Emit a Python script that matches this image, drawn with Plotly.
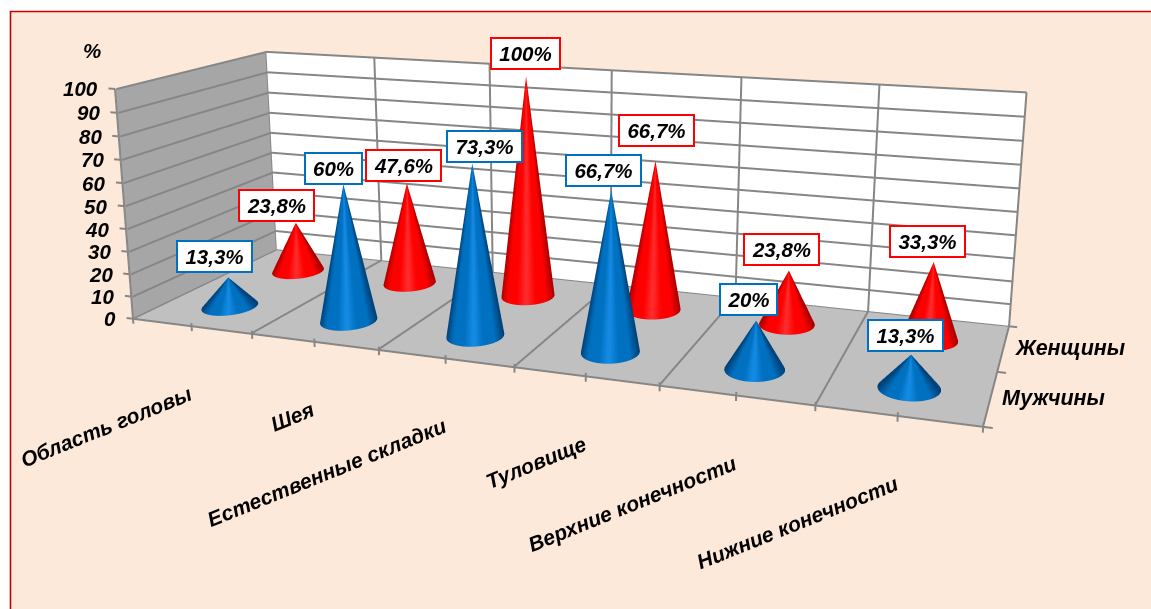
import numpy as np
import plotly.graph_objects as go

# Chart data
categories = ["Область головы", "Шея", "Естественные складки", "Туловище",
              "Верхние конечности", "Нижние конечности"]
series_names = ["Мужчины", "Женщины"]
men = [13.3, 60, 73.3, 66.7, 20, 13.3]
women = [23.8, 47.6, 100, 66.7, 23.8, 33.3]
men_labels = ["13,3%", "60%", "73,3%", "66,7%", "20%", "13,3%"]
women_labels = ["23,8%", "47,6%", "100%", "66,7%", "23,8%", "33,3%"]
value_ticks = list(range(0, 101, 10))

# Pixel offsets of the value callouts from each cone's tip
men_offsets = [(-14, 21), (-10, 16), (12, 17), (-8, 20), (-8, 21), (-6, 19)]
women_offsets = [(-19, 17), (-3, 18), (-1, 23), (1, 30), (-7, 21), (-6, 21)]

# Page and view geometry
PAGE_W = 1151
VIEW_H = 1232        # taller scene narrows the 45 degree lens
VIEW_TOP = 399       # part of the scene scrolled above the page
VIEW_CX = 569
EYE = (2.10305, -5.66059, 1.50330)
CENTER = (0.02290, -0.03296, -0.02545)
UP = (-0.08370, 0.23230, 0.96904)
UNIT = (3.55042 / 6, 1.17815 / 2, 1.0 / 100)   # scene length per data unit
PAD = (0.3, 0.2, 6.0)                          # room round the box for tick marks

NX, NY, NZ = len(categories), len(series_names), 100
BLUE = ((0, 66, 122), (0, 112, 192), (22, 142, 232), "#0070c0")
RED = ((172, 0, 0), (255, 0, 0), (255, 48, 48), "#ff0000")
GRID = "#868686"
FONT = "Liberation Sans"
CONE_RX, CONE_RY = 0.197, 0.235


def wall(xs, ys, zs, color):
    return go.Mesh3d(x=xs, y=ys, z=zs, i=[0, 0], j=[1, 2], k=[2, 3], color=color,
                     lighting=dict(ambient=1, diffuse=0, specular=0, fresnel=0),
                     hoverinfo="skip", showscale=False)


def polyline(segments, width):
    xs, ys, zs = [], [], []
    for seg in segments:
        for p in seg:
            xs.append(p[0]); ys.append(p[1]); zs.append(p[2])
        xs.append(None); ys.append(None); zs.append(None)
    return go.Scatter3d(x=xs, y=ys, z=zs, mode="lines", hoverinfo="skip",
                        line=dict(color=GRID, width=width))


def shade(s, ramp):
    edge, mid, bright = [np.array(c, float) for c in ramp[:3]]
    if s < 0.35:
        c = bright + (mid - bright) * s / 0.35
    elif s < 0.72:
        c = mid
    else:
        c = mid + (edge - mid) * (s - 0.72) / 0.28
    return "rgb(%d,%d,%d)" % tuple(c)


def cone(cx, cy, height, ramp, n=72):
    th = np.linspace(0, 2 * np.pi, n, endpoint=False)
    sx = (cx - NX / 2) * UNIT[0]
    sy = (cy - NY / 2) * UNIT[1]
    view = np.arctan2(EYE[1] - sy, EYE[0] - sx)
    cols = [shade(abs(np.sin(t - view)), ramp) for t in th]
    xs = list(cx + CONE_RX * np.cos(th)) + [cx] * n
    ys = list(cy + CONE_RY * np.sin(th)) + [cy] * n
    zs = [0.0] * n + [height] * n
    return go.Mesh3d(x=xs, y=ys, z=zs, i=list(range(n)), j=[(q + 1) % n for q in range(n)],
                     k=[n + q for q in range(n)], vertexcolor=cols + cols,
                     lighting=dict(ambient=1, diffuse=0, specular=0, fresnel=0),
                     hoverinfo="skip", showscale=False)


def note(x, y, z, text, size=20.5, **kw):
    return dict(x=x, y=y, z=z, text="<b><i>%s</i></b>" % text, showarrow=False,
                font=dict(family=FONT, size=size, color="#000000"), **kw)


fig = go.Figure()

# Walls and floor
fig.add_trace(wall([0, 0, 0, 0], [0, NY, NY, 0], [0, 0, NZ, NZ], "#a6a6a6"))
fig.add_trace(wall([0, NX, NX, 0], [NY, NY, NY, NY], [0, 0, NZ, NZ], "#ffffff"))
fig.add_trace(wall([0, NX, NX, 0], [0, 0, NY, NY], [0, 0, 0, 0], "#c0c0c0"))

# Gridlines lifted a hair off their planes
ex, ey, ez = 0.012, 0.012, 0.35
grid = []
for z in value_ticks:
    grid.append([(ex, 0, z), (ex, NY - ey, z), (NX, NY - ey, z)])
for k in range(NX + 1):
    grid.append([(k, 0, ez), (k, NY - ey, ez), (k, NY - ey, NZ)])
grid.append([(0, 0, 0), (NX, 0, 0)])
grid.append([(0, 0, 0), (0, 0, NZ)])
grid.append([(NX, 0, ez), (NX, NY, ez)])
fig.add_trace(polyline(grid, 4))

# Tick marks on the outer edges
ticks = []
for k in np.arange(0, NX + 0.25, 0.5):
    ticks.append([(k, 0, -2.2), (k, 0, 1.4)])
for z in value_ticks:
    ticks.append([(-0.055, 0, z), (0, 0, z)])
for s in range(NY + 1):
    ticks.append([(NX, s, 0), (NX + 0.055, s, 0)])
fig.add_trace(polyline(ticks, 4))

# Cones, one row for each series
for row, vals, ramp in [(0.5, men, BLUE), (1.5, women, RED)]:
    for i, v in enumerate(vals):
        fig.add_trace(cone(i + 0.5, row, v, ramp))

notes = []
for z in value_ticks:
    notes.append(note(0, 0, z, str(z), xanchor="right", yanchor="middle", xshift=-15))
notes.append(note(0, 0, NZ, "%", xanchor="center", yanchor="middle", xshift=-23, yshift=38))
for i, name in enumerate(categories):
    notes.append(note(i + 0.5, 0, 0, name, size=21, textangle=-22, xanchor="right", yanchor="top",
                      xshift=6, yshift=-53))
for s, name in enumerate(series_names):
    notes.append(note(NX, s + 0.5, 0, name, size=21.5, xanchor="left", yanchor="middle", xshift=9, yshift=0))

for row, vals, labels, offsets, ramp in [(0.5, men, men_labels, men_offsets, BLUE),
                                         (1.5, women, women_labels, women_offsets, RED)]:
    for i, v in enumerate(vals):
        dx, dy = offsets[i]
        w = 53 if len(labels[i]) == 3 else 65 if len(labels[i]) == 4 else 71
        notes.append(note(i + 0.5, row, v, labels[i], xanchor="center", yanchor="middle",
                          xshift=dx, yshift=dy, width=w, height=27, align="center",
                          bgcolor="#ffffff", bordercolor=ramp[3], borderwidth=2, borderpad=1))


def axis(rng):
    return dict(range=rng, visible=False, showspikes=False)


fig.update_layout(
    width=PAGE_W, height=VIEW_H, margin=dict(l=0, r=0, t=0, b=0),
    paper_bgcolor="#ffffff", showlegend=False,
    shapes=[dict(type="rect", xref="paper", yref="paper", layer="below",
                 x0=10.5 / PAGE_W, x1=1.02,
                 y0=0, y1=1 - (VIEW_TOP + 11.5) / VIEW_H,
                 fillcolor="#fde9d9", line=dict(color="#c80000", width=1.6))],
    scene=dict(
        domain=dict(x=[0, 2 * VIEW_CX / PAGE_W], y=[0, 1]),
        bgcolor="rgba(0,0,0,0)",
        aspectmode="manual",
        aspectratio=dict(x=(NX + 2 * PAD[0]) * UNIT[0], y=(NY + 2 * PAD[1]) * UNIT[1],
                         z=(NZ + 2 * PAD[2]) * UNIT[2]),
        camera=dict(eye=dict(x=EYE[0], y=EYE[1], z=EYE[2]),
                    center=dict(x=CENTER[0], y=CENTER[1], z=CENTER[2]),
                    up=dict(x=UP[0], y=UP[1], z=UP[2])),
        xaxis=axis([-PAD[0], NX + PAD[0]]),
        yaxis=axis([-PAD[1], NY + PAD[1]]),
        zaxis=axis([-PAD[2], NZ + PAD[2]]),
        annotations=notes,
    ),
)

page_script = (
    "document.documentElement.style.overflow='hidden';"
    "document.body.style.overflow='hidden';"
    "document.getElementById('{plot_id}').style.marginTop='-%dpx';" % VIEW_TOP
)
fig.write_html("out.html", config=dict(displayModeBar=False), post_script=page_script,
               default_width="%dpx" % PAGE_W, default_height="%dpx" % VIEW_H)
